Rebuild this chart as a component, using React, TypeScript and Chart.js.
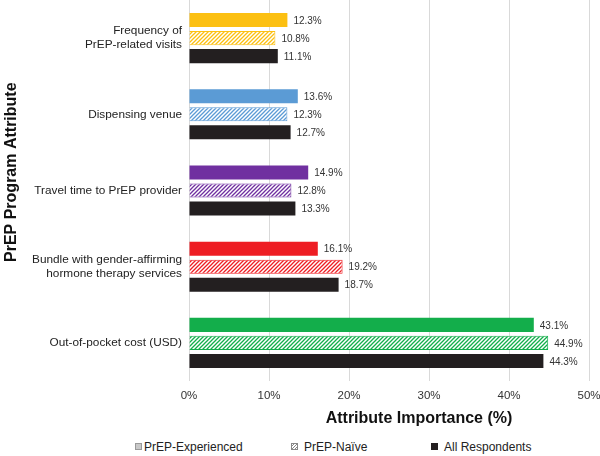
import React, { useRef, useEffect } from 'react';
import { Chart, registerables } from 'chart.js';

Chart.register(...registerables);

const FONT = "'Liberation Sans', Arial, sans-serif";

const attributes = [
  ['Frequency of', 'PrEP-related visits'],
  'Dispensing venue',
  'Travel time to PrEP provider',
  ['Bundle with gender-affirming', 'hormone therapy services'],
  'Out-of-pocket cost (USD)',
];
const attributeColors = ['#FCC012', '#5B9BD5', '#7030A0', '#EE1D23', '#13AE4B'];
const experienced = [12.3, 13.6, 14.9, 16.1, 43.1];
const naive = [10.8, 12.3, 12.8, 19.2, 44.9];
const allRespondents = [11.1, 12.7, 13.3, 18.7, 44.3];
const xTicks = [0, 10, 20, 30, 40, 50];
const xTitle = 'Attribute Importance (%)';
const yTitle = 'PrEP Program Attribute';

function hatch(color: string) {
  const size = 4;
  const c = document.createElement('canvas');
  c.width = size;
  c.height = size;
  const ctx = c.getContext('2d')!;
  ctx.fillStyle = '#fff';
  ctx.fillRect(0, 0, size, size);
  ctx.strokeStyle = color;
  ctx.lineWidth = 1.3;
  ctx.beginPath();
  ctx.moveTo(0, size);
  ctx.lineTo(size, 0);
  ctx.moveTo(-1, 1);
  ctx.lineTo(1, -1);
  ctx.moveTo(size - 1, size + 1);
  ctx.lineTo(size + 1, size - 1);
  ctx.stroke();
  return ctx.createPattern(c, 'repeat')!;
}

const valueLabels = {
  id: 'valueLabels',
  afterDatasetsDraw(chart: any) {
    const ctx = chart.ctx;
    ctx.save();
    ctx.font = `10px ${FONT}`;
    ctx.fillStyle = '#333';
    ctx.textAlign = 'left';
    ctx.textBaseline = 'middle';
    chart.data.datasets.forEach((ds: any, i: number) => {
      chart.getDatasetMeta(i).data.forEach((bar: any, j: number) => {
        ctx.fillText(`${ds.data[j].toFixed(1)}%`, bar.x + 6, bar.y + 1);
      });
    });
    ctx.restore();
  },
};

// axis titles sit off-centre in the original, so draw them here
const axisTitles = {
  id: 'axisTitles',
  afterDraw(chart: any) {
    const { ctx, chartArea } = chart;
    const { left, right, top, bottom } = chartArea;
    ctx.save();
    ctx.font = `bold 16px ${FONT}`;
    ctx.fillStyle = '#111';
    ctx.textAlign = 'center';
    ctx.textBaseline = 'middle';
    ctx.fillText(xTitle, left + (right - left) * 0.575, bottom + 38);
    ctx.translate(12, top + (bottom - top) * 0.452);
    ctx.rotate(-Math.PI / 2);
    ctx.fillText(yTitle, 0, 0);
    ctx.restore();
  },
};

const App: React.FC = () => {
  const chartRef = useRef<HTMLCanvasElement | null>(null);

  useEffect(() => {
    document.body.style.margin = '0';
    const ctx = chartRef.current!.getContext('2d')!;
    const chart = new Chart(ctx, {
      type: 'bar',
      data: {
        labels: attributes,
        datasets: [
          {
            label: 'PrEP-Experienced',
            data: experienced,
            backgroundColor: attributeColors,
            borderColor: attributeColors,
            borderWidth: 0,
          },
          {
            label: 'PrEP-Naïve',
            data: naive,
            backgroundColor: attributeColors.map(hatch),
            borderColor: attributeColors,
            borderWidth: 1,
          },
          {
            label: 'All Respondents',
            data: allRespondents,
            backgroundColor: '#231F20',
            borderWidth: 0,
          },
        ],
      },
      options: {
        indexAxis: 'y',
        responsive: false,
        animation: false,
        categoryPercentage: 0.71,
        barPercentage: 0.78,
        layout: { padding: 0 },
        plugins: {
          legend: { display: false },
          tooltip: { enabled: false },
        },
        scales: {
          x: {
            min: 0,
            max: 50,
            afterBuildTicks: (scale: any) => {
              scale.ticks = xTicks.map((v) => ({ value: v }));
            },
            afterFit: (scale: any) => {
              scale.height = 49;
              scale.paddingLeft = 0;
              scale.paddingRight = 11;
            },
            grid: { color: '#D9D9D9', drawTicks: false },
            border: { display: false },
            ticks: {
              padding: 8,
              color: '#333',
              font: { family: FONT, size: 11.5 },
              callback: (v: any) => `${v}%`,
            },
          },
          y: {
            afterFit: (scale: any) => {
              scale.width = 189;
              scale.paddingTop = 0;
              scale.paddingBottom = 0;
            },
            grid: { display: false, drawTicks: false },
            border: { display: false },
            ticks: {
              padding: 7,
              color: '#222',
              font: { family: FONT, size: 11.8 },
            },
          },
        },
      },
      plugins: [valueLabels, axisTitles],
    } as any);
    return () => chart.destroy();
  }, []);

  const legendText: React.CSSProperties = {
    position: 'absolute',
    top: 0,
    fontFamily: FONT,
    fontSize: 12,
    color: '#222',
    lineHeight: '14px',
  };
  const box: React.CSSProperties = {
    position: 'absolute',
    top: 3,
    width: 7,
    height: 7,
    boxSizing: 'border-box',
  };

  return (
    <div style={{ position: 'relative', width: 600, height: 456, background: '#fff' }}>
      <canvas ref={chartRef} width={600} height={430} style={{ display: 'block' }} />
      <div style={{ position: 'absolute', left: 0, top: 440, width: 600, height: 14 }}>
        <span style={{ ...box, left: 135, background: '#C8C8C8', border: '1px solid #999' }} />
        <span style={{ ...legendText, left: 144 }}>PrEP-Experienced</span>
        <span
          style={{
            ...box,
            left: 291,
            border: '1px solid #888',
            background: 'repeating-linear-gradient(135deg, #fff 0 1px, #888 1px 2px)',
          }}
        />
        <span style={{ ...legendText, left: 304 }}>PrEP-Naïve</span>
        <span style={{ ...box, left: 431, background: '#231F20' }} />
        <span style={{ ...legendText, left: 444 }}>All Respondents</span>
      </div>
    </div>
  );
};

export default App;
